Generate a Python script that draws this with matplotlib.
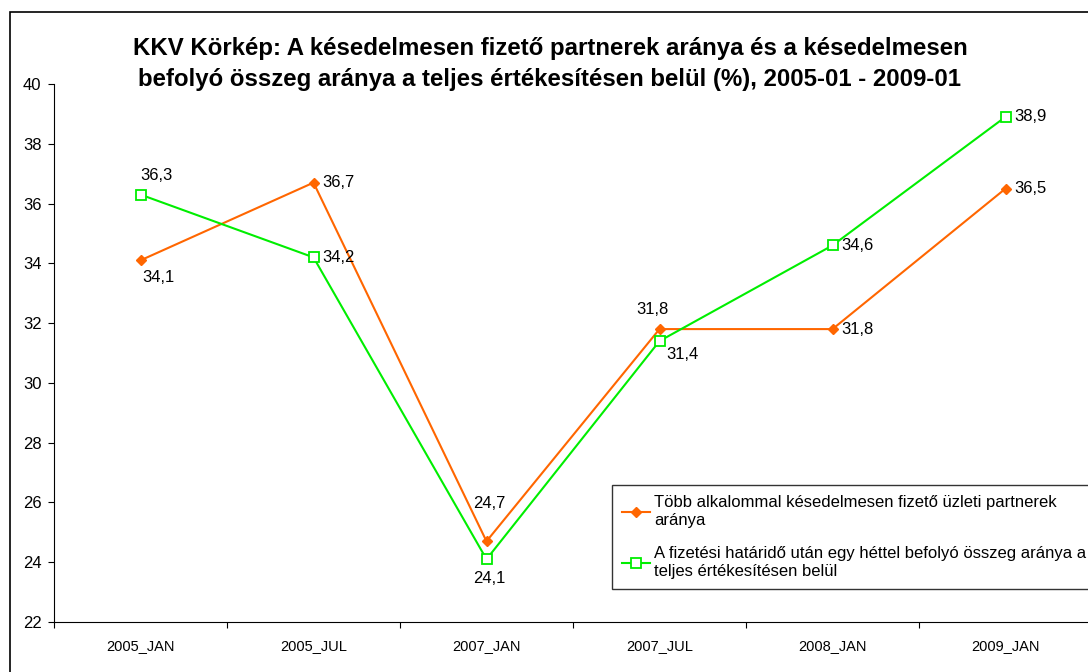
import matplotlib
matplotlib.use("Agg")
import matplotlib.pyplot as plt
from matplotlib.patches import Rectangle

plt.rcParams['font.family'] = ['Liberation Sans', 'DejaVu Sans']

categories = ["2005_JAN", "2005_JUL", "2007_JAN", "2007_JUL", "2008_JAN", "2009_JAN"]
partnerek = [34.1, 36.7, 24.7, 31.8, 31.8, 36.5]
osszeg = [36.3, 34.2, 24.1, 31.4, 34.6, 38.9]

label_partnerek = "Több alkalommal késedelmesen fizető üzleti partnerek\naránya"
label_osszeg = "A fizetési határidő után egy héttel befolyó összeg aránya a\nteljes értékesítésen belül"
title = ("KKV Körkép: A késedelmesen fizető partnerek aránya és a késedelmesen\n"
         "befolyó összeg aránya a teljes értékesítésen belül (%), 2005-01 - 2009-01")

W, H = 1088, 672
fig = plt.figure(figsize=(W / 100, H / 100), dpi=100)
ax = fig.add_axes([54 / W, 1 - 622 / H, 1038 / W, 538 / H])

# outer chart frame (runs off the right/bottom edge like the original)
fig.patches.append(Rectangle((10 / W, -0.1), 1.2, 1 - 12 / H + 0.1, transform=fig.transFigure,
                             fill=False, edgecolor='black', linewidth=1.2, clip_on=False))

x = list(range(len(categories)))
orange = '#FF6600'
green = '#00EE00'
ax.plot(x, partnerek, color=orange, linewidth=1.5, marker='D', markersize=5.5,
        markerfacecolor=orange, markeredgecolor=orange, label=label_partnerek)
ax.plot(x, osszeg, color=green, linewidth=1.5, marker='s', markersize=6.5,
        markerfacecolor='white', markeredgecolor=green, markeredgewidth=1.3, label=label_osszeg)

# data label offsets in points (dx, dy, ha, va)
off_p = [(1, -12, 'left', 'center'), (6, 0, 'left', 'center'), (2, 27, 'center', 'center'),
         (-5, 14, 'center', 'center'), (6, 0, 'left', 'center'), (6, 0, 'left', 'center')]
off_o = [(0, 14, 'left', 'center'), (6, 0, 'left', 'center'), (2, -14, 'center', 'center'),
         (5, -10, 'left', 'center'), (6, 0, 'left', 'center'), (6, 0, 'left', 'center')]
for xs, vals, offs in ((x, partnerek, off_p), (x, osszeg, off_o)):
    for xi, v, (dx, dy, ha, va) in zip(xs, vals, offs):
        ax.annotate(f"{v:.1f}".replace('.', ','), (xi, v), xytext=(dx, dy),
                    textcoords='offset points', ha=ha, va=va, fontsize=12)

ax.set_xlim(-0.5, len(categories) - 0.5)
ax.set_ylim(22, 40)
ax.set_yticks(range(22, 41, 2))
ax.set_xticks([i - 0.5 for i in range(len(categories) + 1)])
ax.set_xticklabels([])
ax.set_xticks(x, minor=True)
ax.set_xticklabels(categories, minor=True, fontsize=10.5)
ax.tick_params(axis='x', which='minor', length=0, pad=12)
ax.tick_params(axis='x', which='major', length=4, direction='out')
ax.tick_params(axis='y', length=4, direction='out', labelsize=12, pad=5)
ax.spines['top'].set_visible(False)
ax.spines['right'].set_visible(False)

fig.text(550 / W, 1 - 64 / H, title, ha='center', va='center', fontsize=17.3, fontweight='bold',
         linespacing=1.45)

leg = ax.legend(loc='upper left', bbox_to_anchor=(612 / W, 1 - 485 / H),
                bbox_transform=fig.transFigure, fontsize=12, frameon=True, fancybox=False,
                edgecolor='black', handlelength=1.7, handletextpad=0.25, borderpad=0.6,
                labelspacing=1.1, borderaxespad=0)
leg.get_frame().set_linewidth(1.0)
for t in leg.get_texts():
    t.set_linespacing(1.25)

fig.savefig("out.png", dpi=100)
